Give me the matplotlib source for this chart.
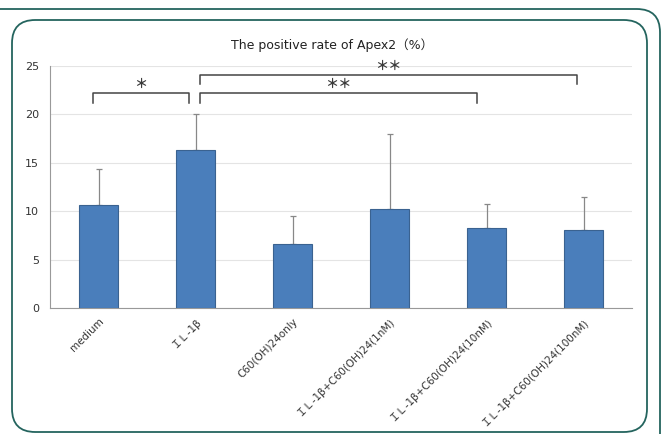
import matplotlib.pyplot as plt
from matplotlib.patches import FancyBboxPatch
import numpy as np

plt.rcParams['font.family'] = ['DejaVu Sans', 'Noto Sans CJK JP']

categories = ['medium', 'ＩＬ-1β', 'C60(OH)24only',
              'ＩＬ-1β+C60(OH)24(1nM)', 'ＩＬ-1β+C60(OH)24(10nM)',
              'ＩＬ-1β+C60(OH)24(100nM)']
means = [10.6, 16.3, 6.6, 10.2, 8.3, 8.1]
sd = [3.8, 3.7, 2.9, 7.8, 2.4, 3.4]
# significance brackets: (start, end, height, label)
brackets = [(-0.06, 0.93, 22.2, '＊'),
            (1.05, 3.9, 22.2, '＊＊'),
            (1.05, 4.93, 24.1, '＊＊')]

W, H = 664, 434
fig = plt.figure(figsize=(W / 100, H / 100), dpi=100)

# panel frames
frame = '#24645e'
outer = FancyBboxPatch((-30 / W, -40 / H), 690 / W, (H - 9 + 40) / H,
                       boxstyle='round,pad=0,rounding_size=0.035',
                       transform=fig.transFigure, fill=False,
                       ec=frame, lw=1.3, mutation_aspect=W / H)
inner = FancyBboxPatch((12 / W, 2 / H), 635 / W, (H - 20 - 2) / H,
                       boxstyle='round,pad=0,rounding_size=0.035',
                       transform=fig.transFigure, fill=False,
                       ec=frame, lw=1.3, mutation_aspect=W / H)
fig.patches.extend([outer, inner])

ax = fig.add_axes([50 / W, 1 - 308 / H, 582 / W, 242 / H])
x = np.arange(len(categories))
ax.bar(x, means, width=0.4, color='#4a7ebb', edgecolor='#3a6290', lw=0.8,
       zorder=3)
ax.errorbar(x, means, yerr=[np.zeros(len(sd)), sd], fmt='none',
            ecolor='#888888', elinewidth=0.9, capsize=2.5, capthick=0.9,
            zorder=2)

ax.set_ylim(0, 25)
ax.set_xlim(-0.5, len(categories) - 0.5)
ax.set_yticks([0, 5, 10, 15, 20, 25])
ax.grid(axis='y', color='#e4e4e4', lw=0.8, zorder=0)
for s in ['top', 'right']:
    ax.spines[s].set_visible(False)
ax.spines['left'].set_color('#999999')
ax.spines['bottom'].set_color('#999999')
ax.tick_params(length=0, labelsize=8, colors='#333333', pad=8)
ax.set_xticks(x)
ax.set_xticklabels(categories, rotation=45, ha='right', rotation_mode='anchor',
                   fontsize=7.5)
ax.tick_params(axis='x', pad=6)

for x0, x1, y, lab in brackets:
    ax.plot([x0, x0, x1, x1], [y - 1.0, y, y, y - 1.0], color='#444444',
            lw=1.1, clip_on=False, zorder=4)
    ax.text((x0 + x1) / 2, y + 0.2, lab, ha='center', va='bottom',
            fontsize=9.5, color='#3a3a3a', fontweight='bold',
            family='Noto Sans CJK JP')

fig.text(0.5, 1 - 45 / H, 'The positive rate of Apex2（%）', ha='center',
         va='center', fontsize=9, color='#222222')

fig.savefig('out.png', dpi=100)
